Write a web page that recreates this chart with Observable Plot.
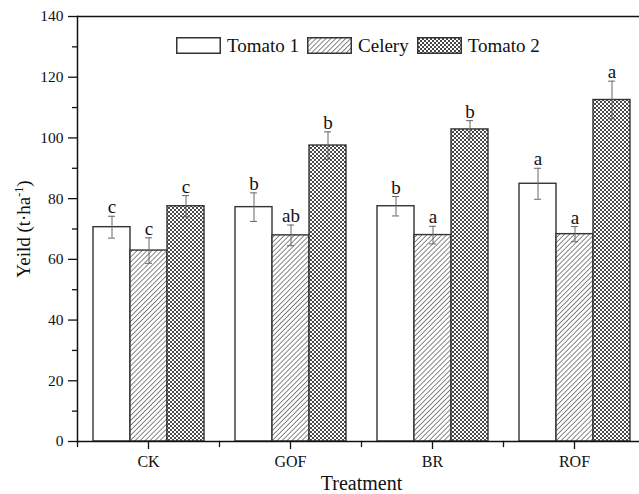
<!DOCTYPE html>
<html><head><meta charset="utf-8">
<script src="https://cdn.jsdelivr.net/npm/d3@7"></script>
<script src="https://cdn.jsdelivr.net/npm/@observablehq/plot@0.6"></script>
<style>
html,body{margin:0;padding:0;background:#fff;overflow:hidden}
#wrap{position:relative;width:639px;height:494px}
#legend{position:absolute;left:176px;top:37px;height:17px;display:flex;align-items:center;font-family:"Liberation Serif",serif;font-size:19px;color:#111;white-space:nowrap}
#legend .item{display:flex;align-items:center;margin-right:8px}
#legend svg{margin-right:6px;display:block}
</style></head>
<body>
<svg width="0" height="0" style="position:absolute">
  <defs>
    <pattern id="hatch" patternUnits="userSpaceOnUse" width="3.5" height="3.5" patternTransform="rotate(45)">
      <rect width="3.5" height="3.5" fill="#fff"/>
      <line x1="0" y1="0" x2="0" y2="3.5" stroke="#222" stroke-width="1.1"/>
    </pattern>
    <pattern id="cross" patternUnits="userSpaceOnUse" width="4" height="4">
      <rect width="4" height="4" fill="#fff"/>
      <path d="M0,0L4,4M4,0L0,4" stroke="#333" stroke-width="0.9"/>
    </pattern>
  </defs>
</svg>
<div id="wrap"><div id="chart"></div><div id="legend"></div></div>
<script>
const treatments = ["CK", "GOF", "BR", "ROF"];
const series = ["Tomato 1", "Celery", "Tomato 2"];
const tomato1 = [70.6, 77.2, 77.5, 84.9];
const tomato1Err = [3.6, 4.7, 3.2, 5.1];
const tomato1Sig = ["c", "b", "b", "a"];
const celery = [62.9, 67.9, 68.0, 68.3];
const celeryErr = [4.2, 3.4, 2.9, 2.5];
const celerySig = ["c", "ab", "a", "a"];
const tomato2 = [77.5, 97.5, 102.8, 112.5];
const tomato2Err = [3.5, 4.5, 2.9, 6.2];
const tomato2Sig = ["c", "b", "b", "a"];
const yTicks = [0, 20, 40, 60, 80, 100, 120, 140];
const yMinorTicks = [10, 30, 50, 70, 90, 110, 130];
const fills = ["#fff", "url(#hatch)", "url(#cross)"];

const seriesData = [
  [tomato1, tomato1Err, tomato1Sig],
  [celery, celeryErr, celerySig],
  [tomato2, tomato2Err, tomato2Sig]
];
const rows = [];
treatments.forEach((t, i) => {
  series.forEach((s, j) => {
    const [v, e, g] = seriesData[j];
    rows.push({treatment: t, series: s, value: v[i], err: e[i], sig: g[i]});
  });
});

const tickShape = {draw(ctx, l) { ctx.moveTo(0, 0); ctx.lineTo(0, -l); }};

const plot = Plot.plot({
  width: 639, height: 494,
  marginLeft: 76, marginRight: 0, marginTop: 16, marginBottom: 53,
  style: {fontFamily: "'Liberation Serif', serif", fontSize: "15px", color: "#111", background: "#fff", overflow: "hidden"},
  fx: {domain: treatments, range: [76, 646], padding: 0, label: "Treatment"},
  x: {domain: series, paddingInner: 0, paddingOuter: 0.375, axis: null},
  y: {domain: [0, 140]},
  color: {domain: series, range: fills},
  marks: [
    Plot.barY(rows, {fx: "treatment", x: "series", y: "value", fill: "series", stroke: "#333", strokeWidth: 1.4}),
    Plot.ruleX(rows, {fx: "treatment", x: "series", y1: d => d.value - d.err, y2: d => d.value + d.err, stroke: "#666", strokeWidth: 1}),
    Plot.tickY(rows, {fx: "treatment", x: "series", y: d => d.value - d.err, stroke: "#666", strokeWidth: 1, insetLeft: 15, insetRight: 15}),
    Plot.tickY(rows, {fx: "treatment", x: "series", y: d => d.value + d.err, stroke: "#666", strokeWidth: 1, insetLeft: 15, insetRight: 15}),
    Plot.text(rows, {fx: "treatment", x: "series", y: d => d.value + d.err, text: "sig", lineAnchor: "bottom", dy: -3, fontSize: 19, fill: "#111"}),
    Plot.ruleY([0], {stroke: "#111", strokeWidth: 1.5}),
    Plot.ruleY([140], {stroke: "#111", strokeWidth: 1.5}),
    Plot.frame({anchor: "left", facetAnchor: "left", stroke: "#111", strokeWidth: 1.5}),
    Plot.vector([0], {frameAnchor: "bottom-left", length: 5, rotate: 180, anchor: "start", stroke: "#111", strokeWidth: 1.3, shape: tickShape}),
    Plot.axisY({ticks: yTicks, tickSize: 9, tickPadding: 5, tickFormat: d => d, fontSize: 15.5, stroke: "#111", strokeWidth: 1.3, label: "Yeild (t·ha-1)", labelAnchor: "center", labelOffset: 61, labelArrow: "none"}),
    Plot.axisY({ticks: yMinorTicks, tickSize: 5, text: null, label: null, stroke: "#111", strokeWidth: 1.3}),
    Plot.axisFx({anchor: "bottom", tickSize: 8, tickPadding: 6, fontSize: 16, stroke: "#111", strokeWidth: 1.3, label: "Treatment", labelAnchor: "center", labelOffset: 48, labelArrow: "none"})
  ]
});

document.getElementById("chart").appendChild(plot);

// label styling
const svg = d3.select(plot);
svg.selectAll('g[aria-label="y-axis label"] text').style("font-size", "19px");
svg.selectAll('g[aria-label="fx-axis label"] text').style("font-size", "20px");
svg.selectAll('g[aria-label="y-axis label"] text').each(function() {
  const t = d3.select(this);
  t.text(null);
  t.append("tspan").text("Yeild (t·ha");
  t.append("tspan").attr("baseline-shift", "super").attr("font-size", "12px").text("-1");
  t.append("tspan").text(")");
});

// legend
const legend = d3.select("#legend");
series.forEach((s, j) => {
  const item = legend.append("div").attr("class", "item");
  const sw = item.append("svg").attr("width", 45).attr("height", 17);
  sw.append("rect").attr("x", 0.75).attr("y", 0.75).attr("width", 43.5).attr("height", 15.5)
    .attr("fill", fills[j]).attr("stroke", "#333").attr("stroke-width", 1.5);
  item.append("span").text(s);
});
</script>
</body></html>
